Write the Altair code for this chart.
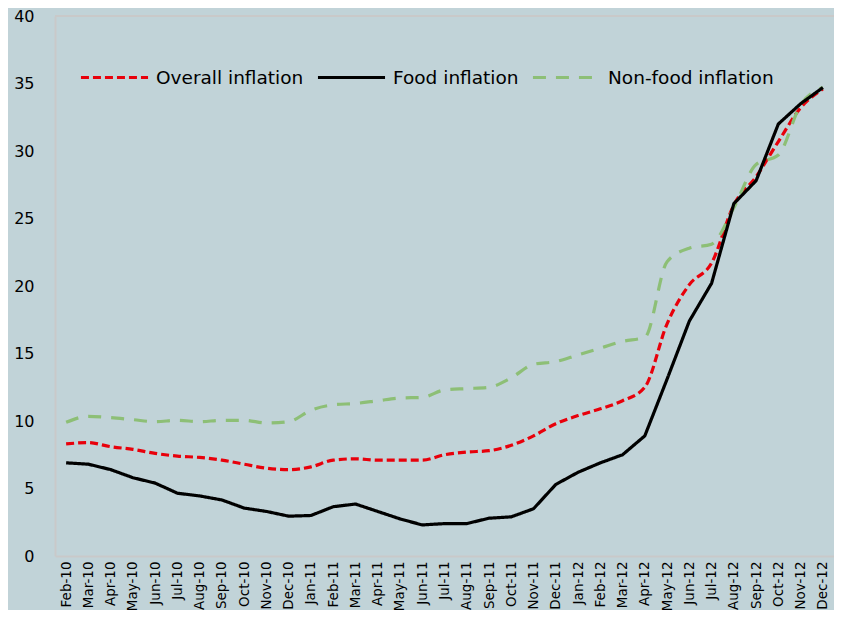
import altair as alt
import pandas as pd

months = ["Feb-10", "Mar-10", "Apr-10", "May-10", "Jun-10", "Jul-10", "Aug-10", "Sep-10",
          "Oct-10", "Nov-10", "Dec-10", "Jan-11", "Feb-11", "Mar-11", "Apr-11", "May-11",
          "Jun-11", "Jul-11", "Aug-11", "Sep-11", "Oct-11", "Nov-11", "Dec-11", "Jan-12",
          "Feb-12", "Mar-12", "Apr-12", "May-12", "Jun-12", "Jul-12", "Aug-12", "Sep-12",
          "Oct-12", "Nov-12", "Dec-12"]

overall = [8.3, 8.4, 8.1, 7.9, 7.6, 7.4, 7.3, 7.1, 6.8, 6.5, 6.4, 6.6, 7.1, 7.2, 7.1, 7.1,
           7.1, 7.5, 7.7, 7.8, 8.2, 8.9, 9.8, 10.4, 10.9, 11.5, 12.5, 17.2, 20.1, 21.7,
           26.0, 28.1, 30.7, 33.2, 34.6]

food = [6.9, 6.8, 6.4, 5.8, 5.4, 4.65, 4.45, 4.15, 3.55, 3.3, 2.95, 3.0, 3.65, 3.85, 3.3,
        2.75, 2.3, 2.4, 2.4, 2.8, 2.9, 3.5, 5.3, 6.2, 6.9, 7.5, 8.9, 13.1, 17.4, 20.2,
        26.1, 27.8, 32.0, 33.5, 34.7]

nonfood = [9.9, 10.35, 10.25, 10.1, 9.95, 10.05, 9.95, 10.05, 10.05, 9.85, 9.95, 10.8,
           11.2, 11.3, 11.5, 11.7, 11.75, 12.3, 12.4, 12.5, 13.2, 14.2, 14.4, 14.9, 15.4,
           15.9, 16.2, 21.8, 22.8, 23.1, 25.8, 29.0, 29.7, 33.4, 34.7]

series_names = ["Overall inflation", "Food inflation", "Non-food inflation"]
y_ticks = [0, 5, 10, 15, 20, 25, 30, 35, 40]

rows = []
for name, vals in zip(series_names, [overall, food, nonfood]):
    for m, v in zip(months, vals):
        rows.append({"month": m, "value": v, "series": name})
df = pd.DataFrame(rows)

W, H = 779, 540
FONT = "DejaVu Sans"
AXIS_GRAY = "#C9C9C9"

legend = alt.Legend(
    title=None, orient="none", legendX=24, legendY=26, direction="horizontal",
    symbolType="stroke", symbolSize=4500, symbolStrokeWidth=3.2,
    labelFont=FONT, labelFontSize=18.5, labelColor="#000000", labelOffset=6,
    columnPadding=7, padding=0, labelLimit=400,
)

color_scale = alt.Scale(domain=series_names, range=["#E8000B", "#000000", "#8DBF76"])
dash_scale = alt.Scale(domain=series_names, range=[[8, 4], [1, 0], [13, 10]])

base = alt.Chart(df).encode(
    x=alt.X("month:O", sort=months, title=None,
            axis=alt.Axis(labelAngle=-90, labelAlign="right", labelBaseline="middle",
                          labelFont=FONT, labelFontSize=13.5, labelColor="#000000",
                          labelPadding=5, ticks=False, domainColor=AXIS_GRAY,
                          domainWidth=2, labelOverlap=False)),
    y=alt.Y("value:Q", scale=alt.Scale(domain=[0, 40]), title=None,
            axis=alt.Axis(values=y_ticks, grid=False, labelFont=FONT, labelFontSize=16,
                          labelColor="#000000", labelPadding=21, ticks=False,
                          domainColor=AXIS_GRAY, domainWidth=2)),
    color=alt.Color("series:N", scale=color_scale, legend=legend),
    strokeDash=alt.StrokeDash("series:N", scale=dash_scale, legend=legend),
)

smooth = base.transform_filter(alt.datum.series != "Food inflation").mark_line(
    interpolate="monotone", strokeWidth=3.2)
food_line = base.transform_filter(alt.datum.series == "Food inflation").mark_line(
    strokeWidth=3.2)

top_border = alt.Chart(pd.DataFrame({"a": [0]})).mark_rule(
    color=AXIS_GRAY, strokeWidth=2).encode(
    x=alt.value(0), x2=alt.value(W), y=alt.value(0))

chart = alt.layer(top_border, smooth, food_line).properties(
    width=W, height=H,
    autosize=alt.AutoSizeParams(type="none"),
    padding={"left": 47, "top": 8, "right": 0, "bottom": 54},
).configure(background="#C1D3D8").configure_view(stroke=None)

chart.save("out.html", embed_options={"renderer": "svg", "actions": False})
